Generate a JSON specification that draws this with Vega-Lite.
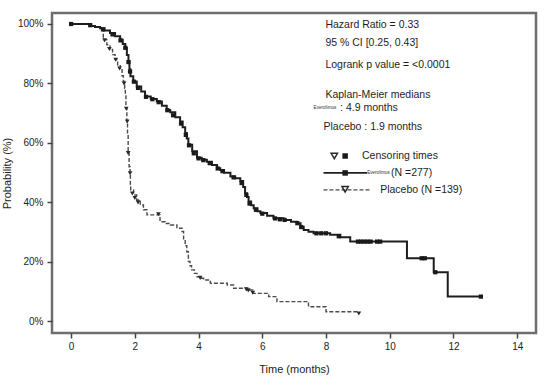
{
  "$schema": "https://vega.github.io/schema/vega-lite/v6.json",
  "width": 484,
  "height": 320,
  "autosize": {"type": "none"},
  "padding": {"left": 52, "top": 13, "right": 10, "bottom": 58},
  "background": "white",
  "config": {
    "view": {"stroke": "#6e6e6e", "strokeWidth": 2.5},
    "font": "Liberation Sans",
    "axis": {"grid": false, "domain": false, "tickColor": "#444", "tickWidth": 1.5, "tickSize": 5, "labelColor": "#222", "labelFontSize": 10, "titleColor": "#222", "titleFontSize": 11, "titleFontWeight": "normal", "labelFont": "Liberation Sans", "titleFont": "Liberation Sans"}
  },
  "datasets": {
    "evero": [
      {"t": 0, "s": 100}, {"t": 0.6, "s": 99.3}, {"t": 0.75, "s": 99}, {"t": 0.91, "s": 98.6}, {"t": 1.05, "s": 97.8},
      {"t": 1.22, "s": 97}, {"t": 1.38, "s": 95.9}, {"t": 1.54, "s": 94.7}, {"t": 1.62, "s": 93.3}, {"t": 1.7, "s": 91.9},
      {"t": 1.75, "s": 89.6}, {"t": 1.8, "s": 87.4}, {"t": 1.83, "s": 84.8}, {"t": 1.86, "s": 82.4}, {"t": 1.95, "s": 80.7},
      {"t": 2.06, "s": 79}, {"t": 2.2, "s": 77.3}, {"t": 2.32, "s": 75.6}, {"t": 2.5, "s": 74.8}, {"t": 2.69, "s": 73.9},
      {"t": 2.85, "s": 72.5}, {"t": 3.0, "s": 71.1}, {"t": 3.11, "s": 70.3}, {"t": 3.27, "s": 68.6}, {"t": 3.42, "s": 67.2},
      {"t": 3.5, "s": 65.3}, {"t": 3.58, "s": 63.3}, {"t": 3.63, "s": 61.5}, {"t": 3.68, "s": 59.4}, {"t": 3.8, "s": 57.2},
      {"t": 3.95, "s": 55}, {"t": 4.1, "s": 54.3}, {"t": 4.26, "s": 53.7}, {"t": 4.42, "s": 52.6}, {"t": 4.58, "s": 51.5},
      {"t": 4.68, "s": 50.9}, {"t": 4.8, "s": 50}, {"t": 5.0, "s": 48.7}, {"t": 5.15, "s": 48.1}, {"t": 5.31, "s": 47.2},
      {"t": 5.4, "s": 45.2}, {"t": 5.46, "s": 43.1}, {"t": 5.52, "s": 41.8}, {"t": 5.57, "s": 40.3}, {"t": 5.65, "s": 39},
      {"t": 5.73, "s": 38}, {"t": 5.85, "s": 37}, {"t": 5.94, "s": 36.4}, {"t": 6.15, "s": 35.5}, {"t": 6.35, "s": 34.7},
      {"t": 6.67, "s": 34.1}, {"t": 6.9, "s": 33.5}, {"t": 7.09, "s": 33}, {"t": 7.2, "s": 31.8}, {"t": 7.3, "s": 30.7},
      {"t": 7.45, "s": 30.1}, {"t": 7.61, "s": 29.6}, {"t": 8.13, "s": 29.1}, {"t": 8.45, "s": 28.3}, {"t": 8.76, "s": 26.8},
      {"t": 10.54, "s": 21.2}, {"t": 11.38, "s": 16.5}, {"t": 11.82, "s": 8.3}, {"t": 12.86, "s": 8.3}
    ],
    "placebo": [
      {"t": 0, "s": 100}, {"t": 0.6, "s": 99.3}, {"t": 0.75, "s": 99}, {"t": 0.91, "s": 98}, {"t": 1.01, "s": 94.7},
      {"t": 1.12, "s": 93}, {"t": 1.22, "s": 91.4}, {"t": 1.3, "s": 89.7}, {"t": 1.38, "s": 88}, {"t": 1.46, "s": 86.3},
      {"t": 1.54, "s": 84.6}, {"t": 1.6, "s": 82.6}, {"t": 1.64, "s": 80.7}, {"t": 1.68, "s": 78.4}, {"t": 1.7, "s": 76.2},
      {"t": 1.72, "s": 71.7}, {"t": 1.75, "s": 67.2}, {"t": 1.77, "s": 62.7}, {"t": 1.79, "s": 56.6}, {"t": 1.82, "s": 52},
      {"t": 1.85, "s": 49.8}, {"t": 1.86, "s": 46}, {"t": 1.87, "s": 44.2}, {"t": 1.96, "s": 42.5}, {"t": 2.06, "s": 40.8},
      {"t": 2.17, "s": 39.1}, {"t": 2.27, "s": 37.5}, {"t": 2.38, "s": 35.8}, {"t": 2.79, "s": 33.5}, {"t": 2.95, "s": 32.9},
      {"t": 3.11, "s": 32.4}, {"t": 3.32, "s": 31.3}, {"t": 3.48, "s": 30.2}, {"t": 3.53, "s": 27.4}, {"t": 3.58, "s": 25.4},
      {"t": 3.63, "s": 23.4}, {"t": 3.68, "s": 20.1}, {"t": 3.73, "s": 18.7}, {"t": 3.78, "s": 17.3}, {"t": 3.87, "s": 16.1},
      {"t": 3.95, "s": 15}, {"t": 4.05, "s": 14.5}, {"t": 4.16, "s": 13.9}, {"t": 4.37, "s": 12.8}, {"t": 4.9, "s": 12.2},
      {"t": 5.1, "s": 11.1}, {"t": 5.5, "s": 10.5}, {"t": 5.7, "s": 9.4}, {"t": 6.2, "s": 8.3}, {"t": 6.46, "s": 6.6},
      {"t": 7.45, "s": 4.9}, {"t": 8.0, "s": 3.2}, {"t": 9.03, "s": 3.2}
    ],
    "censorE": [
      {"t": 0, "s": 100}, {"t": 0.6, "s": 99.6}, {"t": 1.0, "s": 98.2}, {"t": 1.3, "s": 96.5}, {"t": 1.55, "s": 94.5},
      {"t": 1.7, "s": 92}, {"t": 1.8, "s": 87.2}, {"t": 1.85, "s": 84}, {"t": 1.97, "s": 80.6}, {"t": 2.1, "s": 78.5},
      {"t": 2.35, "s": 75.5}, {"t": 2.55, "s": 74.7}, {"t": 2.75, "s": 73.7}, {"t": 3.02, "s": 71}, {"t": 3.2, "s": 69.3},
      {"t": 3.45, "s": 66.5}, {"t": 3.6, "s": 62.7}, {"t": 3.7, "s": 59.2}, {"t": 3.85, "s": 56.5}, {"t": 4.0, "s": 54.8},
      {"t": 4.15, "s": 54.2}, {"t": 4.35, "s": 53.2}, {"t": 4.6, "s": 51.4}, {"t": 4.75, "s": 50.5}, {"t": 5.1, "s": 48.4},
      {"t": 5.35, "s": 46.5}, {"t": 5.5, "s": 42.5}, {"t": 5.6, "s": 39.6}, {"t": 5.8, "s": 37.5}, {"t": 6.0, "s": 36.2},
      {"t": 6.4, "s": 34.6}, {"t": 6.55, "s": 34.3}, {"t": 6.7, "s": 34.1}, {"t": 7.1, "s": 33}, {"t": 7.22, "s": 31.7},
      {"t": 7.7, "s": 29.6}, {"t": 7.85, "s": 29.6}, {"t": 8.0, "s": 29.6}, {"t": 8.4, "s": 28.6}, {"t": 9.0, "s": 26.8},
      {"t": 9.1, "s": 26.8}, {"t": 9.2, "s": 26.8}, {"t": 9.3, "s": 26.8}, {"t": 9.4, "s": 26.8}, {"t": 9.6, "s": 26.8},
      {"t": 9.7, "s": 26.8}, {"t": 11.0, "s": 21.2}, {"t": 11.1, "s": 21.2}, {"t": 11.43, "s": 16.5}, {"t": 12.86, "s": 8.3}
    ],
    "censorP": [
      {"t": 1.05, "s": 94.5}, {"t": 1.2, "s": 91.6}, {"t": 1.4, "s": 88}, {"t": 1.52, "s": 85}, {"t": 1.66, "s": 80},
      {"t": 1.73, "s": 71.5}, {"t": 1.76, "s": 67.2}, {"t": 1.79, "s": 56.6}, {"t": 1.85, "s": 49.8}, {"t": 1.92, "s": 43},
      {"t": 2.0, "s": 41.5}, {"t": 2.1, "s": 40}, {"t": 2.74, "s": 36}, {"t": 4.05, "s": 14.6}, {"t": 5.5, "s": 10.8},
      {"t": 5.56, "s": 10.4}, {"t": 5.7, "s": 9.6}, {"t": 9.03, "s": 2.6}
    ],
    "legendLines": [
      {"arm": "E", "t": 7.92, "s": 49.9}, {"arm": "E", "t": 9.29, "s": 49.9},
      {"arm": "P", "t": 7.92, "s": 44.2}, {"arm": "P", "t": 9.39, "s": 44.2}
    ],
    "legendE": [{"t": 8.6, "s": 49.9}],
    "legendP": [{"t": 8.6, "s": 44.4}],
    "symTri": [{"t": 8.26, "s": 55.6}],
    "symSq": [{"t": 8.6, "s": 55.6}],
    "notes": [
      {"t": 7.98, "s": 99.8, "label": "Hazard Ratio = 0.33"},
      {"t": 7.98, "s": 93.7, "label": "95 % CI [0.25, 0.43]"},
      {"t": 7.98, "s": 86.3, "label": "Logrank p value = <0.0001"},
      {"t": 7.98, "s": 76.2, "label": "Kaplan-Meier medians"},
      {"t": 8.44, "s": 71.8, "label": ": 4.9 months"},
      {"t": 7.92, "s": 65.4, "label": "Placebo : 1.9 months"},
      {"t": 9.13, "s": 55.6, "label": "Censoring times"},
      {"t": 10.04, "s": 49.9, "label": "(N =277)"},
      {"t": 9.7, "s": 44.2, "label": "Placebo  (N =139)"}
    ],
    "tiny": [
      {"t": 7.61, "s": 71.8, "label": "Everolimus"},
      {"t": 9.29, "s": 49.9, "label": "Everolimus"}
    ]
  },
  "encoding": {
    "x": {"field": "t", "type": "quantitative", "scale": {"domain": [-0.6, 14.59], "nice": false, "zero": false},
          "axis": {"values": [0, 2, 4, 6, 8, 10, 12, 14], "title": "Time (months)", "labelPadding": 3, "titlePadding": 12, "labelFlush": false}},
    "y": {"field": "s", "type": "quantitative", "scale": {"domain": [-3.94, 103.7], "nice": false, "zero": false},
          "axis": {"values": [0, 20, 40, 60, 80, 100], "labelExpr": "datum.value + '%'", "title": "Probability (%)", "labelPadding": 4, "titlePadding": 5}}
  },
  "layer": [
    {"data": {"name": "placebo"}, "mark": {"type": "line", "interpolate": "step-after", "color": "#4a4a4a", "strokeWidth": 1.4, "strokeDash": [4, 2]}, "encoding": {}},
    {"data": {"name": "evero"}, "mark": {"type": "line", "interpolate": "step-after", "color": "#1e1e1e", "strokeWidth": 2}, "encoding": {}},
    {"data": {"name": "censorP"}, "mark": {"type": "point", "shape": "triangle-down", "filled": true, "color": "#2a2a2a", "size": 22, "opacity": 1}},
    {"data": {"name": "censorE"}, "mark": {"type": "point", "shape": "square", "filled": true, "color": "#1a1a1a", "size": 18, "opacity": 1}},
    {"data": {"name": "legendLines"}, "transform": [{"filter": "datum.arm == 'E'"}], "mark": {"type": "line", "color": "#1e1e1e", "strokeWidth": 1.8}, "encoding": {}},
    {"data": {"name": "legendLines"}, "transform": [{"filter": "datum.arm == 'P'"}], "mark": {"type": "line", "color": "#4a4a4a", "strokeWidth": 1.3, "strokeDash": [4, 2]}, "encoding": {}},
    {"data": {"name": "legendE"}, "mark": {"type": "point", "shape": "square", "filled": true, "color": "#1a1a1a", "size": 30, "opacity": 1}},
    {"data": {"name": "legendP"}, "mark": {"type": "point", "shape": "triangle-down", "filled": false, "color": "#2a2a2a", "size": 40, "strokeWidth": 1.5, "opacity": 1}},
    {"data": {"name": "symTri"}, "mark": {"type": "point", "shape": "triangle-down", "filled": false, "color": "#2a2a2a", "size": 40, "strokeWidth": 1.5, "opacity": 1}},
    {"data": {"name": "symSq"}, "mark": {"type": "point", "shape": "square", "filled": true, "color": "#1a1a1a", "size": 30, "opacity": 1}},
    {"data": {"name": "notes"}, "mark": {"type": "text", "align": "left", "baseline": "middle", "fontSize": 10.5, "color": "#1e1e1e", "font": "Liberation Sans"}, "encoding": {"text": {"field": "label"}}},
    {"data": {"name": "tiny"}, "mark": {"type": "text", "align": "left", "baseline": "middle", "fontSize": 4.6, "color": "#333", "font": "Liberation Sans"}, "encoding": {"text": {"field": "label"}}}
  ]
}
